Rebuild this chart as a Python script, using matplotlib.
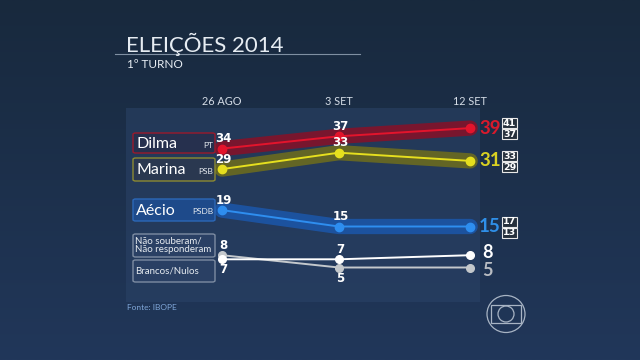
import numpy as np
import matplotlib.pyplot as plt
from matplotlib.patches import Rectangle, FancyBboxPatch, Ellipse

# dias desde 26 AGO
days = [0, 8, 17]
dates = ['26 AGO', '3 SET', '12 SET']

dilma = [34, 37, 39]
marina = [29, 33, 31]
aecio = [19, 15, 15]
nao_sab = [7, 7, 8]
brancos = [8, 5, 5]

dilma_range = ['41', '37']
marina_range = ['33', '29']
aecio_range = ['17', '13']

W, H = 640, 360
X0, DX = 222, 14.6   # pixel do dia 0, pixels por dia
Y0, DY = 288, 4.1    # pixel do valor 0, pixels por ponto

fig = plt.figure(figsize=(6.4, 3.6), dpi=100)

# fundo em degrade
bg = fig.add_axes([0, 0, 1, 1])
grad = np.linspace(0, 1, 256).reshape(-1, 1)
top = np.array([0x18, 0x29, 0x3d]) / 255
bot = np.array([0x21, 0x37, 0x5a]) / 255
img = top + (bot - top) * grad[:, :, None]
bg.imshow(img, aspect='auto', extent=[0, 1, 0, 1])
bg.set_axis_off()

ax = fig.add_axes([0, 0, 1, 1])
ax.set_facecolor('none')
ax.set_xlim(-X0 / DX, (W - X0) / DX)
ax.set_ylim((Y0 - H) / DY, Y0 / DY)
ax.set_axis_off()


def px(x):
    return (x - X0) / DX


def py(y):
    return (Y0 - y) / DY


def fx(x):
    return x / W


def fy(y):
    return 1 - y / H


# painel
ax.add_patch(Rectangle((px(126), py(302)), (480 - 126) / DX, (302 - 108) / DY,
                       facecolor='#2b4368', alpha=0.55, edgecolor='none', zorder=1))

# titulo
fig.text(fx(126), fy(52), 'ELEIÇÕES 2014', fontsize=16, color='#e6ecf2',
         family='Lato', weight='normal', va='baseline')
fig.text(fx(127), fy(68), '1º TURNO', fontsize=8.5, color='#e8eef4',
         family='Lato', va='baseline')
fig.add_artist(plt.Line2D([fx(115), fx(360)], [fy(54), fy(54)], color='#7f8fa2',
                          lw=0.8, transform=fig.transFigure))

for d, lab in zip(days, dates):
    ax.text(d, py(101.5), lab, ha='center', va='center', fontsize=7.8,
            color='#d4dce6', family='Lato')

# linhas com faixa
series = [
    (dilma, '#82132a', '#e3142c', 0.9),
    (marina, '#6f6e1c', '#e6df1e', 0.85),
    (aecio, '#1c55a6', '#2e8ef0', 0.9),
]
for vals, band, line, a in series:
    ax.plot(days, vals, color=band, lw=11, solid_capstyle='round',
            solid_joinstyle='round', alpha=a, zorder=3)
    ax.plot(days, vals, color=line, lw=1.4, marker='o', ms=6, zorder=4)

ax.plot(days, brancos, color='#c4c8cc', lw=1.4, marker='o', ms=5.5, zorder=4)
ax.plot(days, nao_sab, color='#ffffff', lw=1.4, marker='o', ms=5.5, zorder=5)

# rotulos de valor (deslocamento em pixels: negativo = acima)
up, down = -10 / DY, 10.5 / DY
vfont = dict(fontsize=8.5, color='white', weight='bold', ha='center', va='center',
             zorder=6)
labels = [
    (dilma, 0, up), (dilma, 1, up), (marina, 0, up), (marina, 1, up),
    (aecio, 0, up), (aecio, 1, up), (brancos, 0, up), (nao_sab, 1, up),
    (nao_sab, 0, down), (brancos, 1, down),
]
for vals, i, off in labels:
    ax.text(days[i] + 0.12, vals[i] - off, str(vals[i]), **vfont)

# valores finais
xe = px(479)
for vals, c in [(dilma, '#d81a2c'), (marina, '#d8d022'), (aecio, '#2f8fe8')]:
    ax.text(xe, vals[-1], str(vals[-1]), fontsize=13.5, color=c, weight='bold',
            family='Lato', ha='left', va='center', zorder=6)
ax.text(xe + 0.2, nao_sab[-1] + 0.6, str(nao_sab[-1]), fontsize=13, color='white',
        weight='bold', family='Lato', ha='left', va='center', zorder=6)
ax.text(xe + 0.2, brancos[-1] - 0.7, str(brancos[-1]), fontsize=13,
        color='#b8bcc2', weight='bold', family='Lato', ha='left', va='center',
        zorder=6)

# margens (caixinhas)
for vals, rng in [(dilma, dilma_range), (marina, marina_range), (aecio, aecio_range)]:
    yc = Y0 - DY * vals[-1]
    for k, t in enumerate(rng):
        y0 = yc - 10 + k * 11
        fig.add_artist(Rectangle((fx(502), fy(y0 + 10)), 15 / W, 10 / H,
                                 transform=fig.transFigure, facecolor='#26303c',
                                 edgecolor='#e8e8e8', lw=0.8))
        fig.text(fx(509.5), fy(y0 + 5.2), t, fontsize=6.8, color='white',
                 weight='bold', ha='center', va='center')

# caixas de nomes
boxes = [
    (133, 133, 215, 153, '#26304e', '#9a1a2c', 'Dilma', 'PT'),
    (133, 158, 215, 181, '#2a3850', '#8c8a32', 'Marina', 'PSB'),
    (133, 199, 215, 221, '#1e4a8a', '#2c68b8', 'Aécio', 'PSDB'),
]
for x0, y0, x1, y1, fc, ec, name, party in boxes:
    fig.add_artist(FancyBboxPatch((fx(x0), fy(y1)), (x1 - x0) / W, (y1 - y0) / H,
                                  boxstyle='round,pad=0,rounding_size=0.004',
                                  transform=fig.transFigure, facecolor=fc,
                                  edgecolor=ec, lw=1))
    fig.text(fx(x0 + 3), fy((y0 + y1) / 2 + 1), name, fontsize=11.5, color='white',
             family='Lato', ha='left', va='center')
    fig.text(fx(x1 - 2), fy((y0 + y1) / 2 + 2), party, fontsize=6, color='#e6ebf0',
             family='Lato', ha='right', va='center')

for x0, y0, x1, y1, txt in [(133, 234, 215, 257, 'Não souberam/\nNão responderam'),
                            (133, 260, 215, 282, 'Brancos/Nulos')]:
    fig.add_artist(FancyBboxPatch((fx(x0), fy(y1)), (x1 - x0) / W, (y1 - y0) / H,
                                  boxstyle='round,pad=0,rounding_size=0.004',
                                  transform=fig.transFigure, facecolor='#2a4064',
                                  edgecolor='#7d8ca2', lw=1))
    fig.text(fx(x0 + 2), fy((y0 + y1) / 2), txt, fontsize=7, color='#e6ebf0',
             family='Lato', ha='left', va='center', linespacing=0.95)

fig.text(fx(127), fy(307), 'Fonte: IBOPE', fontsize=6, color='#7fa6d8',
         family='Lato', ha='left', va='center')

# logo
lc = '#a8b4c4'
fig.add_artist(Ellipse((fx(506), fy(314)), 38 / W, 37 / H, transform=fig.transFigure,
                       facecolor='none', edgecolor=lc, lw=0.9))
fig.add_artist(Rectangle((fx(491), fy(323)), 30 / W, 18 / H,
                         transform=fig.transFigure, facecolor='none',
                         edgecolor=lc, lw=0.9))
fig.add_artist(Ellipse((fx(506), fy(314)), 16 / W, 16 / H, transform=fig.transFigure,
                       facecolor='none', edgecolor=lc, lw=0.9))

fig.savefig('out.png', dpi=100)
